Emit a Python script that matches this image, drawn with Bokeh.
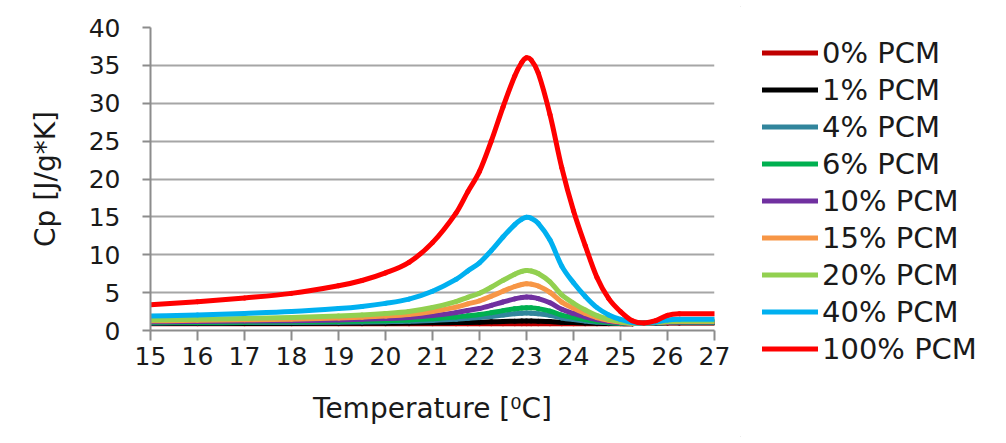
from bokeh.plotting import figure
from bokeh.layouts import row
from bokeh.models import Legend, LegendItem, Range1d, FixedTicker
from bokeh.embed import file_html
from bokeh.resources import INLINE

temperature = [15, 16, 17, 18, 19, 19.5, 20, 20.5, 21, 21.5, 21.75, 22, 22.25, 22.5,
               22.75, 22.9, 23, 23.1, 23.25, 23.5, 23.75, 24, 24.25, 24.5, 24.75, 25,
               25.25, 25.5, 25.75, 26, 26.25, 27]

pcm_0 = [0.9, 0.9, 0.9, 0.9, 0.9, 0.9, 0.9, 0.9, 0.9, 0.9, 0.9, 0.9, 0.9, 0.9,
         0.9, 0.9, 0.9, 0.9, 0.9, 0.9, 0.9, 0.9, 0.9, 0.9, 0.9, 0.9,
         0.9, 1.0, 1.0, 1.0, 1.0, 1.0]
pcm_1 = [0.93, 0.93, 0.93, 0.94, 0.95, 0.96, 0.97, 0.98, 1.01, 1.05, 1.07, 1.10, 1.14, 1.19,
         1.23, 1.25, 1.25, 1.25, 1.23, 1.18, 1.09, 1.04, 0.99, 0.95, 0.93, 0.91,
         0.90, 1.00, 1.00, 1.01, 1.01, 1.01]
pcm_4 = [1.00, 1.02, 1.04, 1.06, 1.10, 1.13, 1.17, 1.22, 1.33, 1.48, 1.60, 1.70, 1.86, 2.04,
         2.21, 2.28, 2.30, 2.29, 2.22, 2.00, 1.66, 1.44, 1.26, 1.11, 1.02, 0.96,
         0.92, 1.00, 1.01, 1.04, 1.05, 1.05]
pcm_6 = [1.05, 1.07, 1.10, 1.14, 1.20, 1.24, 1.30, 1.39, 1.54, 1.78, 1.94, 2.11, 2.35, 2.62,
         2.86, 2.97, 3.01, 2.99, 2.89, 2.56, 2.04, 1.71, 1.44, 1.22, 1.07, 0.98,
         0.92, 1.00, 1.02, 1.06, 1.07, 1.07]
pcm_10 = [1.15, 1.19, 1.24, 1.30, 1.40, 1.47, 1.57, 1.71, 1.97, 2.36, 2.64, 2.91, 3.31, 3.76,
          4.17, 4.35, 4.41, 4.38, 4.21, 3.66, 2.80, 2.25, 1.80, 1.43, 1.19, 1.04,
          0.94, 1.00, 1.03, 1.10, 1.12, 1.12]
pcm_15 = [1.28, 1.34, 1.41, 1.50, 1.65, 1.76, 1.91, 2.12, 2.51, 3.09, 3.51, 3.92, 4.52, 5.19,
          5.81, 6.08, 6.17, 6.12, 5.87, 5.04, 3.75, 2.93, 2.25, 1.70, 1.34, 1.11,
          0.96, 1.00, 1.05, 1.15, 1.18, 1.18]
pcm_20 = [1.40, 1.48, 1.58, 1.70, 1.90, 2.04, 2.24, 2.52, 3.04, 3.82, 4.38, 4.92, 5.72, 6.62,
          7.44, 7.80, 7.92, 7.86, 7.52, 6.42, 4.70, 3.60, 2.70, 1.96, 1.48, 1.18,
          0.98, 1.00, 1.06, 1.20, 1.24, 1.24]
pcm_40 = [1.90, 2.06, 2.26, 2.50, 2.90, 3.18, 3.58, 4.14, 5.18, 6.74, 7.86, 8.94, 10.54, 12.34,
          13.98, 14.70, 14.94, 14.82, 14.14, 11.94, 8.50, 6.30, 4.50, 3.02, 2.06, 1.46,
          1.06, 1.00, 1.12, 1.40, 1.48, 1.48]
pcm_100 = [3.4, 3.8, 4.3, 4.9, 5.9, 6.6, 7.6, 9.0, 11.6, 15.5, 18.3, 21.0, 25.0, 29.5,
           33.6, 35.4, 36.0, 35.7, 34.0, 28.5, 21.5, 15.8, 11.2, 7.0, 4.2, 2.5,
           1.3, 1.0, 1.3, 2.0, 2.2, 2.2]

series_names = ["0% PCM", "1% PCM", "4% PCM", "6% PCM", "10% PCM", "15% PCM",
                "20% PCM", "40% PCM", "100% PCM"]
series_values = [pcm_0, pcm_1, pcm_4, pcm_6, pcm_10, pcm_15, pcm_20, pcm_40, pcm_100]
series_colors = ["#C00000", "#000000", "#31859C", "#00B050", "#7030A0", "#F79646",
                 "#92D050", "#00B0F0", "#FF0000"]

x_ticks = [15, 16, 17, 18, 19, 20, 21, 22, 23, 24, 25, 26, 27]
y_ticks = [0, 5, 10, 15, 20, 25, 30, 35, 40]

FONT = "DejaVu Sans"
TXT = "#1a1a1a"
GRAY = "#8c8c8c"
LW = 5


def smooth_segments(xs, ys):
    """Cubic Hermite (Excel-like 'smoothed line') segments through the data points."""
    n = len(xs)
    m = []
    for i in range(n):
        if i == 0:
            m.append((ys[1] - ys[0]) / (xs[1] - xs[0]))
        elif i == n - 1:
            m.append((ys[-1] - ys[-2]) / (xs[-1] - xs[-2]))
        else:
            m.append((ys[i + 1] - ys[i - 1]) / (xs[i + 1] - xs[i - 1]))
    x0, y0, x1, y1, cx0, cy0, cx1, cy1 = ([] for _ in range(8))
    for i in range(n - 1):
        h = xs[i + 1] - xs[i]
        x0.append(xs[i]); y0.append(ys[i])
        x1.append(xs[i + 1]); y1.append(ys[i + 1])
        cx0.append(xs[i] + h / 3); cy0.append(ys[i] + m[i] * h / 3)
        cx1.append(xs[i + 1] - h / 3); cy1.append(ys[i + 1] - m[i + 1] * h / 3)
    return dict(x0=x0, y0=y0, x1=x1, y1=y1, cx0=cx0, cy0=cy0, cx1=cx1, cy1=cy1)


p = figure(width=740, height=443, output_backend="svg", toolbar_location=None,
           x_range=Range1d(15, 27), y_range=Range1d(0, 40),
           min_border_left=150, min_border_right=26, min_border_top=27,
           min_border_bottom=113)
p.frame_align = False
p.outline_line_color = None
p.background_fill_color = "white"
p.border_fill_color = "white"

p.xgrid.grid_line_color = None
p.ygrid.grid_line_color = "#a6a6a6"
p.ygrid.grid_line_width = 2
p.ygrid.ticker = FixedTicker(ticks=y_ticks)

p.xaxis.ticker = FixedTicker(ticks=x_ticks)
p.yaxis.ticker = FixedTicker(ticks=y_ticks)
for ax in (p.xaxis[0], p.yaxis[0]):
    ax.axis_line_color = GRAY
    ax.axis_line_width = 2
    ax.major_tick_line_color = GRAY
    ax.major_tick_line_width = 2
    ax.major_tick_in = 0
    ax.minor_tick_line_color = None
    ax.major_label_text_font = FONT
    ax.major_label_text_font_size = "25px"
    ax.major_label_text_color = TXT
    ax.axis_label_text_font = FONT
    ax.axis_label_text_font_size = "28px"
    ax.axis_label_text_font_style = "normal"
    ax.axis_label_text_color = TXT

p.xaxis.major_tick_out = 10
p.yaxis.major_tick_out = 8
p.xaxis.major_label_standoff = 6
p.yaxis.major_label_standoff = 22
p.xaxis.axis_label = "Temperature [\u2070C]"
p.yaxis.axis_label = "Cp [J/g*K]"
p.xaxis.axis_label_standoff = 24
p.yaxis.axis_label_standoff = 24

for vals, col in zip(series_values, series_colors):
    seg = smooth_segments(temperature, vals)
    p.bezier(x0="x0", y0="y0", x1="x1", y1="y1", cx0="cx0", cy0="cy0",
             cx1="cx1", cy1="cy1", source=seg, line_color=col, line_width=LW,
             line_cap="round")

# legend panel: the key glyphs reuse the same series (their data lie outside
# this panel's ranges, so only the legend keys are visible here)
lg = figure(width=266, height=443, output_backend="svg", toolbar_location=None,
            x_range=Range1d(100, 101), y_range=Range1d(100, 101),
            x_axis_type=None, y_axis_type=None,
            min_border_left=0, min_border_right=0, min_border_top=0, min_border_bottom=0)
lg.frame_align = False
lg.outline_line_color = None
lg.xgrid.grid_line_color = None
lg.ygrid.grid_line_color = None
lg.border_fill_color = "white"
lg.background_fill_color = "white"

items = []
for name, vals, col in zip(series_names, series_values, series_colors):
    r = lg.line(x=temperature, y=vals, line_color=col, line_width=LW, line_cap="round")
    items.append(LegendItem(label=name, renderers=[r]))

legend = Legend(items=items, location=(22, 76))
legend.glyph_width = 56
legend.glyph_height = 37
legend.label_height = 37
legend.spacing = 0
legend.padding = 0
legend.margin = 0
legend.label_standoff = 4
legend.label_text_font = FONT
legend.label_text_font_size = "29px"
legend.label_text_color = TXT
legend.border_line_color = None
legend.background_fill_alpha = 0
lg.add_layout(legend, "center")

layout = row(p, lg, spacing=0)
layout.styles = {"outline": "1px solid #d9d9d9", "outline-offset": "-7px"}
open("out.html", "w").write(file_html(layout, INLINE))
